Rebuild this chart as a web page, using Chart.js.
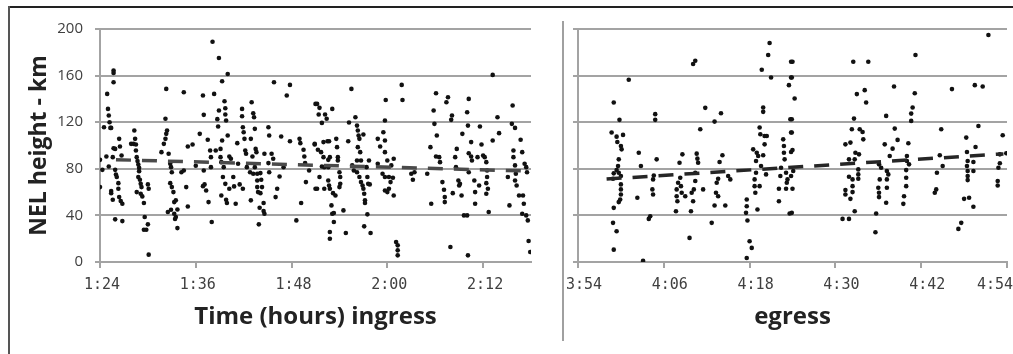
<!DOCTYPE html>
<html>
<head>
<meta charset="utf-8">
<script src="https://cdn.jsdelivr.net/npm/chart.js@4.4.1/dist/chart.umd.min.js"></script>
<style>
	body { margin:0; background:#fff; width:1013px; height:354px; overflow:hidden; position:relative; }
	.frameTop { position:absolute; left:8px; top:6px; width:1005px; height:2px; background:#222; }
	.frameLeft { position:absolute; left:8px; top:6px; width:2px; height:348px; background:#555; }
	.divider { position:absolute; left:562px; top:21px; width:2px; height:320px; background:#a0a0a0; }
	#boxIngress { position:absolute; left:10px; top:8px; }
	#boxEgress { position:absolute; left:564px; top:8px; }
</style>
</head>
<body>
<div class="frameTop"></div>
<div class="frameLeft"></div>
<div class="divider"></div>
<canvas id="boxIngress" width="552" height="346"></canvas>
<canvas id="boxEgress" width="449" height="346"></canvas>
<script>
// time is in minutes after 0:00, height in km
var ingressPoints = [
	[84.0,87.7],[84.0,64.3],[84.3,79.1],[84.5,115.7],[84.8,90.6],[84.9,144.3],[85.0,131.4],[85.1,125.7],[85.2,120],[85.3,115.1],
	[85.4,115.1],[85.1,82],[85.7,164.3],[85.7,162.3],[85.7,154.3],[85.7,97.7],[85.9,97.1],[85.6,90],[85.9,79.1],[86.0,75.1],
	[86.1,72.9],[86.3,67.7],[86.3,62.9],[85.4,60.9],[85.4,59.1],[85.6,53.4],[85.9,36.6],[86.8,35.1],[86.4,105.7],[86.5,99.1],
	[86.7,91.4],[86.4,55.7],[86.6,52.3],[86.8,50],
	[88.3,112.9],[88.4,105.7],[87.9,101.4],[88.2,101.4],[88.5,100.9],[88.5,95.7],[88.6,90],[88.7,86.6],[88.8,83.7],[88.9,80.9],
	[88.9,78],[88.8,72.9],[89.0,70.6],[89.1,67.1],[89.2,64.3],[88.6,60],[89.1,58.6],[89.3,56.3],[89.5,50.6],[90.0,66.6],
	[90.1,62.9],[89.6,38.6],[89.5,27.7],[89.8,27.7],[90.0,32.3],[90.1,6.3],
	[91.7,94.3],[92.0,101.4],[92.2,105.7],[92.3,110],[92.4,112.9],[92.2,122.9],[92.3,148.6],[92.6,92.9],[92.8,84.3],[92.9,81.4],
	[93.0,77.1],[92.8,67.7],[93.0,64.3],[93.2,60],[93.3,51.4],[93.5,52.9],[92.5,42.9],[92.9,44.9],[93.3,41.4],[93.5,38.6],
	[93.7,29.1],[93.4,36.9],[93.7,45.1],[94.2,77.1],[94.5,78.6],[94.5,145.7],[94.8,64.3],[95.0,47.7],[95.0,99.1],[95.6,100.9],
	[96.0,82.6],
	[96.5,110],[96.9,142.9],[97.0,126.3],[97.0,78.6],[96.9,65.1],[97.1,66.6],[97.3,61.4],[97.5,104.9],[97.6,51.4],[97.8,95.7],
	[97.9,90],[97.9,81.4],[98.0,34.3],[98.1,189.1],[98.3,144.3],[98.5,95.7],[98.7,122.6],[98.8,116.3],[98.9,175.1],[98.9,130],
	[99.1,97.1],[99.1,90],[99.2,57.1],[99.2,85.7],[99.3,155.1],[99.3,104.3],[99.4,72.9],[99.5,81.4],[99.6,138],[99.7,132],
	[99.7,126.6],[99.8,121.4],[99.7,67.1],[99.8,53.4],[99.9,50.6],[100.0,161.4],[100.0,108.6],[100.2,90.6],[100.4,88.6],[100.2,62.9],
	[100.7,72.9],[100.8,64.9],[101.0,50],
	[101.2,102],[101.3,84.3],[101.5,66.6],[101.8,131.4],[101.8,125.1],[101.9,115.7],[102.0,111.4],[102.1,105.7],[102.2,95.7],[102.3,92.9],
	[101.9,62.9],[102.4,81.4],[102.8,77.1],[103.0,137.1],[103.2,127.7],[103.3,124.3],[103.4,114.3],[102.9,105.7],[103.1,90.6],[103.4,81.4],
	[103.2,75.7],[102.9,52.9],[103.5,97.1],[103.6,94.3],[103.7,75.7],[103.7,70],[103.7,64.3],[103.8,60],[104.1,59.1],[104.3,64.3],
	[104.2,70.6],[104.1,76.3],[103.9,32.3],[104.0,46.6],[104.5,50.6],[104.5,43.7],[104.6,41.4],[104.6,92.9],[105.1,115.7],[105.2,108.6],
	[105.1,84.9],[105.2,77.1],[105.5,92.9],[105.7,88.6],[106.0,55.7],[106.2,62.9],[106.5,73.4],[105.8,154.3],[106.7,107.7],[107.0,81.4],
	[107.4,142.9],[107.8,152],[107.8,103.7],[108.6,35.7],[109.0,105.7],[109.1,102],[109.2,50.6],[109.5,96.3],[109.6,90.6],[109.7,84.9],
	[109.8,68.6],[110.2,78.6],[110.9,100.9],[111.0,62.9],[111.0,135.7],
	[111.2,135.7],[111.5,132.3],[111.4,126.6],[111.8,119.4],[112.2,126.6],[112.4,122.9],[113.1,131.4],[110.9,101.4],[111.3,96.3],[111.7,94.3],
	[112.0,90],[112.0,102.9],[112.5,103.7],[112.7,103.7],[112.6,87.7],[112.8,90],[111.8,82],[112.1,81.4],[112.6,81.4],[111.5,72.9],
	[111.2,62.9],[112.1,62.9],[112.6,70],[112.7,65.7],[112.8,62.9],[113.2,59.1],[113.5,57.1],[113.0,48.6],[113.1,41.4],[113.3,42],
	[113.3,34.3],[112.8,25.7],[112.8,20],[113.6,105.7],[113.7,98.6],[113.8,90],[113.8,87.1],[114.0,77.1],[114.1,72.9],[114.1,67.1],
	[114.0,64.3],[114.5,44.3],[114.8,24.9],[115.1,103.7],[115.2,119.7],[115.5,148.6],[115.6,82.9],[115.8,78.6],[116.0,124.3],[116.2,117.1],
	[116.3,112.9],[116.4,108.6],[116.5,105.7],[117.0,109.4],[116.3,98.6],[116.6,94.3],[116.7,87.1],[116.2,87.1],[116.2,77.1],[116.5,72.9],
	[116.7,68.6],[116.9,65.7],[117.0,62.9],[117.1,58.6],[117.2,52.9],[117.2,50.6],[117.4,81.4],[117.5,72.9],[117.6,67.1],[117.8,66.6],
	[117.5,40.9],[117.1,30.6],[117.9,24.9],[117.7,87.1],[118.8,105.7],[119.1,99.1],[118.8,84.3],[119.5,111.4],[119.7,121.4],[119.8,139.1],
	[119.7,104.3],[119.7,94.3],[120.0,87.1],[119.4,75.7],[119.7,72.9],[120.2,72.9],[120.4,68.6],[120.7,72.3],[119.7,61.4],[120.0,60],
	[120.8,57.1],[120.2,62.9],[120.5,82.9],[120.8,88.6],[121.1,17.1],[121.3,14.3],[121.3,10],[121.3,5.7],[121.8,152],[121.9,139.1],
	[123.0,75.7],[123.2,70.6],[123.4,77.1],[125.0,75.7],[125.4,98.6],[125.5,50],[125.8,130],[125.9,118.6],[126.1,144.9],[126.2,108.6],
	[126.1,90.6],[126.5,90],[126.6,85.7],[126.9,68.6],[127.1,62],[127.2,55.7],[127.2,51.4],[127.4,137.1],[127.6,141.4],[128.0,122],
	[128.1,125.7],[127.9,12.9],[128.2,59.1],[128.5,90],[128.7,97.1],[128.6,81.4],[128.9,70],[129.0,65.7],[129.1,67.1],[129.3,57.1],
	[129.4,110],[129.6,40],[130.0,40],[130.0,128.6],[130.1,117.1],[130.2,140],[130.1,5.7],[130.2,93.4],[130.5,102.9],[130.5,90.6],
	[130.6,87.1],[130.2,77.1],[130.9,70],[131.0,60],[131.0,50],[131.3,90],[131.5,65.7],[131.6,116.3],[131.8,100.9],[132.0,91.4],
	[132.2,90],[132.4,85.7],[132.5,78.6],[132.5,72.9],[132.4,67.7],[132.6,62.9],[132.4,58.6],[132.7,42.9],[133.2,160.6],[133.2,104.3],
	[133.8,124.3],[134.0,110.6],[135.3,48.6],[135.1,72.9],[135.7,134.3],[135.6,118.6],[136.0,115.1],[135.8,95.7],[135.8,90],[136.0,82.9],
	[136.1,75.7],[136.0,70],[136.2,65.7],[136.7,104.9],[136.9,94.3],[136.5,57.1],[137.0,57.1],[137.1,50],[137.2,84.3],[137.4,81.4],
	[137.4,40],[137.6,35.7],[137.7,18],[137.9,8.6],[136.9,41.4],[137.5,77.1]
];

var egressPoints = [
	[238.7,111.1],[239.0,136.9],[239.4,107.6],[239.5,103],[239.8,122],[240.3,109.1],[240.0,99.6],[240.1,96.7],[239.7,88.1],[239.6,82.4],
	[239.4,78.9],[239.0,76.1],[239.7,76.6],[240.0,73.8],[238.9,71.5],[240.0,66.6],[240.0,62.3],[240.0,58],[239.9,53.7],[239.7,51.4],
	[239.0,46.5],[238.9,33.6],[239.4,26.4],[239.0,10.6],[241.1,156.4],[242.3,55.1],[242.5,93.8],[242.8,82.4],[243.1,1.1],[243.9,37],
	[244.1,39.3],[244.5,70.9],[244.4,62.3],[244.5,58],[244.6,74.3],[244.8,126.9],[244.8,122],[245.0,88.1],[247.8,62.3],[247.8,56.5],
	[247.9,52.2],[247.7,43.6],[248.0,68],[248.2,85.2],[248.3,72.3],[248.4,65.1],[248.5,59.4],[248.6,92.4],[249.0,56.5],[249.6,20.7],
	[249.8,43.6],[249.9,59.4],[250.1,52.2],[250.1,169.9],[250.4,172.8],[250.2,62.3],[250.4,69.5],[250.4,76.6],[250.6,93],[250.7,88.7],
	[250.8,85.2],[251.1,113.9],[251.5,62.3],[251.8,132.3],[252.7,33.6],[253.1,120.5],[253.3,59.4],[253.4,68],[253.6,56.5],[253.1,48.5],
	[253.6,71.5],[253.8,85.8],[254.0,127.7],[254.2,91.6],[254.6,48.5],[255.0,73.8],[255.3,70.9],[257.6,53.7],[257.6,47.9],[257.5,42.2],
	[257.7,35.6],[258.0,17.8],[258.3,12.1],[257.6,3.4],[258.5,96.7],[258.7,70.9],[258.7,65.1],[258.8,59.4],[258.9,76.6],[258.9,86.7],
	[259.0,93.8],[259.1,45.1],[259.2,91],[259.4,115.4],[259.5,109.6],[259.7,165],[259.9,132.6],[259.9,128.9],[259.6,82.4],[259.9,91.6],
	[260.1,108.2],[260.1,101],[260.3,75.2],[260.4,108.2],[259.4,65.1],[260.6,177.7],[260.8,188],[261.0,158.4],[262.1,52.2],[262.1,62.9],
	[262.3,73.8],[262.4,80.9],[262.7,105.3],[262.8,99.6],[262.8,93.8],[262.9,88.1],[263.1,76.6],[263.2,68],[263.1,62.9],[263.3,70.9],
	[263.5,151.8],[263.6,41.6],[263.7,122.5],[263.8,171.9],[263.8,158.4],[263.8,111.1],[263.8,94.4],
	[264.0,171.9],[263.9,158.4],[264.3,140.3],[263.9,122.5],[263.9,111.1],[264.0,96.1],[264.1,78.1],[263.8,73.8],[264.0,62.9],[263.9,42.2],
	[272.5,171.9],[274.6,171.9],[273.0,144.1],[274.1,147.5],[274.3,136.9],[272.6,123.1],[272.3,113.9],[273.4,113.9],[273.8,111.6],[273.9,105.3],
	[271.4,101],[272.1,102.5],[272.8,93.8],[273.3,92.4],[271.9,88.1],[272.7,88.1],[273.2,79.5],[273.2,75.2],[273.2,71.5],[271.9,73.2],
	[272.4,70.9],[272.4,65.1],[271.4,61.7],[271.4,58],[272.4,60],[272.1,54.2],[272.7,43.6],[271.0,37],[271.9,37],[275.7,41.6],
	[275.6,25.5],[276.1,83.8],[276.4,80.9],[276.2,70.9],[276.0,63.7],[276.1,59.4],[276.1,55.7],[276.9,101],[277.1,125.4],[277.2,78.1],
	[277.4,75.2],[277.2,70.9],[277.2,63.7],[277.1,50.8],[277.6,91],[278.0,97.3],[278.3,114.5],[278.2,150.7],[278.7,104.8],[280.0,91],
	[280.0,86.7],[279.9,78.9],[279.9,72.3],[279.9,65.1],[279.6,56.5],[279.5,49.9],[280.2,101.9],[280.3,83.8],[280.6,121.1],[280.6,127.4],
	[280.8,132.6],[281.1,144.9],[281.2,177.7],[283.9,59.4],[284.1,62.3],[284.2,76.6],[284.6,91.6],[284.8,113.9],[285.0,82.4],[286.3,148.4],
	[288.3,106.8],[288.4,94.4],[288.5,86.7],[288.4,82.4],[288.5,78.1],[288.5,73.8],[288.5,70.3],[288.0,54.2],[288.7,55.1],[289.3,47.4],
	[287.2,28.4],[287.6,33.6],[289.5,151.8],[290.0,116.8],[290.6,150.7],[289.6,98.7],[289.3,85.8],[289.3,78.1],[291.4,194.9],[292.8,80.9],
	[292.7,69.5],[292.7,65.7],[293.0,84.7],[293.0,92.4],[293.4,108.8],[293.9,93.3]
];

// dashed trend lines
var ingressTrendTime = [86.0, 138.0];
var ingressTrendHeight = [87.8, 78.0];
var egressTrendTime = [238.0, 293.5];
var egressTrendHeight = [71.2, 92.8];

var ingressTicks = [84, 96, 108, 120, 132];
var ingressTickLabels = ['1:24', '1:36', '1:48', '2:00', '2:12'];
var egressTicks = [234, 246, 258, 270, 282, 294];
var egressTickLabels = ['3:54', '4:06', '4:18', '4:30', '4:42', '4:54'];

function montarPainel(idCanvas, pontos, tendT, tendH, ticks, rotulos, cfg) {
	var cinza = '#a3a3a3';
	new Chart(document.getElementById(idCanvas), {
		type: 'scatter',
		data: {
			datasets: [
				{
					type: 'line',
					data: tendT.map(function(t, i){ return {x: t, y: tendH[i]}; }),
					borderColor: cfg.trendColor,
					borderWidth: 3.5,
					borderDash: [15, 11],
					pointRadius: 0,
					fill: false,
					order: 0
				},
				{
					data: pontos.map(function(p){ return {x: p[0], y: p[1]}; }),
					pointRadius: 2.3,
					pointBackgroundColor: '#111',
					pointBorderWidth: 0,
					order: 1
				}
			]
		},
		options: {
			responsive: false,
			animation: false,
			devicePixelRatio: 1,
			layout: { padding: cfg.padding },
			plugins: { legend: { display: false }, tooltip: { enabled: false } },
			scales: {
				x: {
					type: 'linear',
					min: cfg.xMin,
					max: cfg.xMax,
					afterBuildTicks: function(s){ s.ticks = ticks.map(function(v){ return {value: v}; }); },
					afterFit: function(s){ s.height = 92; s.paddingLeft = 0; s.paddingRight = 0; },
					grid: { drawOnChartArea: false, drawTicks: true, tickLength: 6, color: cinza, lineWidth: 2 },
					border: { color: cinza, width: 2 },
					ticks: {
						autoSkip: false,
						maxRotation: 0,
						padding: 8,
						labelOffset: cfg.labelOffset,
						color: '#404040',
						font: { family: 'DejaVu Sans Mono', size: 15 },
						callback: function(v, i){
							var s = rotulos[i];
							if (cfg.padLast && i === rotulos.length - 1) s = s + '    ';
							return s;
						}
					},
					title: {
						display: true,
						text: cfg.xTitle,
						color: '#222',
						font: { family: 'Open Sans', size: 24, weight: 'bold' },
						padding: { top: 0, bottom: 22 }
					}
				},
				y: {
					min: 0,
					max: 200,
					afterFit: function(s){ s.width = cfg.yWidth; },
					grid: { color: cinza, lineWidth: 2, tickLength: 5 },
					border: { color: cinza, width: 2 },
					ticks: {
						stepSize: 40,
						display: cfg.yLabels,
						padding: 12,
						color: '#404040',
						font: { family: 'Open Sans', size: 15 }
					},
					title: {
						display: cfg.yLabels,
						text: 'NEL height - km',
						color: '#222',
						font: { family: 'Open Sans', size: 23, weight: 'bold' },
						padding: { top: 16, bottom: 0 }
					}
				}
			}
		}
	});
}

montarPainel('boxIngress', ingressPoints, ingressTrendTime, ingressTrendHeight, ingressTicks, ingressTickLabels, {
	xMin: 84, xMax: 138, xTitle: 'Time (hours) ingress', yLabels: true, yWidth: 90,
	padding: { left: 0, top: 20, right: 31, bottom: 0 }, labelOffset: 2, padLast: false, trendColor: '#4a4a4a'
});
montarPainel('boxEgress', egressPoints, egressTrendTime, egressTrendHeight, egressTicks, egressTickLabels, {
	xMin: 234, xMax: 294, xTitle: 'egress', yLabels: false, yWidth: 14,
	padding: { left: 0, top: 21, right: 6, bottom: 0 }, labelOffset: 6, padLast: true, trendColor: '#262626'
});
</script>
</body>
</html>
